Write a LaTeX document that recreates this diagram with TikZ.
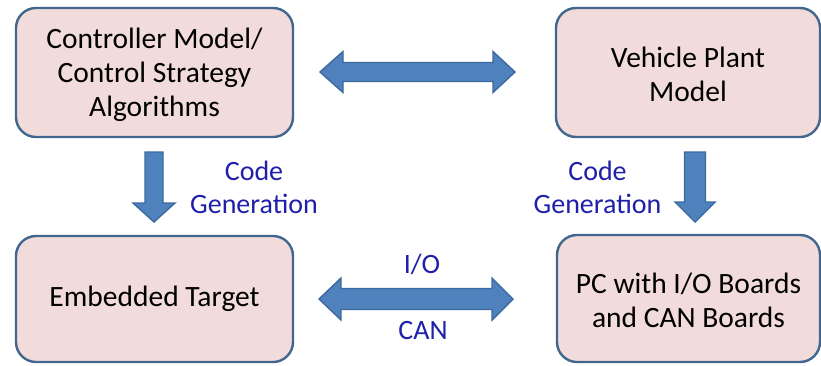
\documentclass[tikz,border=0pt]{standalone}
\usepackage{fontspec}
\setmainfont{Carlito}
\begin{document}
\begin{tikzpicture}[x=1pt,y=-1pt,
  box/.style={draw=boxline,fill=boxfill,line width=2.4pt,rounded corners=20pt,
    align=center,font=\fontsize{29.5}{34}\selectfont,text=black,inner sep=0pt},
  fatarrow/.style={draw=arrline,fill=arrfill,line width=1.4pt,line join=miter},
  lbl/.style={text=lblblue,font=\fontsize{28}{33}\selectfont,align=center,inner sep=0pt}]
\definecolor{boxfill}{HTML}{F2DCDB}
\definecolor{boxline}{HTML}{41678F}
\definecolor{arrfill}{HTML}{4F81BD}
\definecolor{arrline}{HTML}{3C6A9E}
\definecolor{lblblue}{HTML}{1F1FAA}
\useasboundingbox (0,0) rectangle (821,365);
\fill[white] (0,0) rectangle (821,365);
% boxes
\node[box,minimum width=277pt,minimum height=129pt] (ctrl) at (154.5,72.5) {};
\node[align=center,font=\fontsize{29.5}{34}\selectfont,inner sep=0pt] (ctrlt) at (154.5,75)
  {Controller Model/\\Control Strategy\\Algorithms};
\node[box,minimum width=264pt,minimum height=129pt] (plant) at (688,72.5) {};
\node[align=center,font=\fontsize{29.5}{34}\selectfont,inner sep=0pt] (plantt) at (688,74)
  {Vehicle Plant\\Model};
\node[box,minimum width=277pt,minimum height=126pt] (emb) at (154.5,299)
  {Embedded Target};
\node[box,minimum width=263pt,minimum height=127pt] (pc) at (688.5,298.5) {};
\node[align=center,font=\fontsize{29.5}{34}\selectfont,inner sep=0pt] (pct) at (688.5,300)
  {PC with I/O Boards\\and CAN Boards};
% top double arrow
\draw[fatarrow] (320,72) -- (343,51.5) -- (343,62.5) -- (493,62.5) -- (493,51.5)
  -- (515,72) -- (493,92.5) -- (493,81.5) -- (343,81.5) -- (343,92.5) -- cycle;
% bottom double arrow
\draw[fatarrow] (319,299) -- (341,278) -- (341,288.5) -- (492,288.5) -- (492,278)
  -- (513,299) -- (492,320) -- (492,309.5) -- (341,309.5) -- (341,320) -- cycle;
% down arrows
\draw[fatarrow] (145,152) -- (163,152) -- (163,203) -- (175,203) -- (154,222)
  -- (133,203) -- (145,203) -- cycle;
\draw[fatarrow] (684.5,152) -- (705.5,152) -- (705.5,202) -- (715,202) -- (695,222)
  -- (675,202) -- (684.5,202) -- cycle;
% labels
\node[lbl] (cg1) at (254,187) {Code\\Generation};
\node[lbl] (cg2) at (597.5,187) {Code\\Generation};
\node[lbl] (io) at (422,264) {I/O};
\node[lbl] (can) at (423,331) {CAN};
\end{tikzpicture}
\end{document}
